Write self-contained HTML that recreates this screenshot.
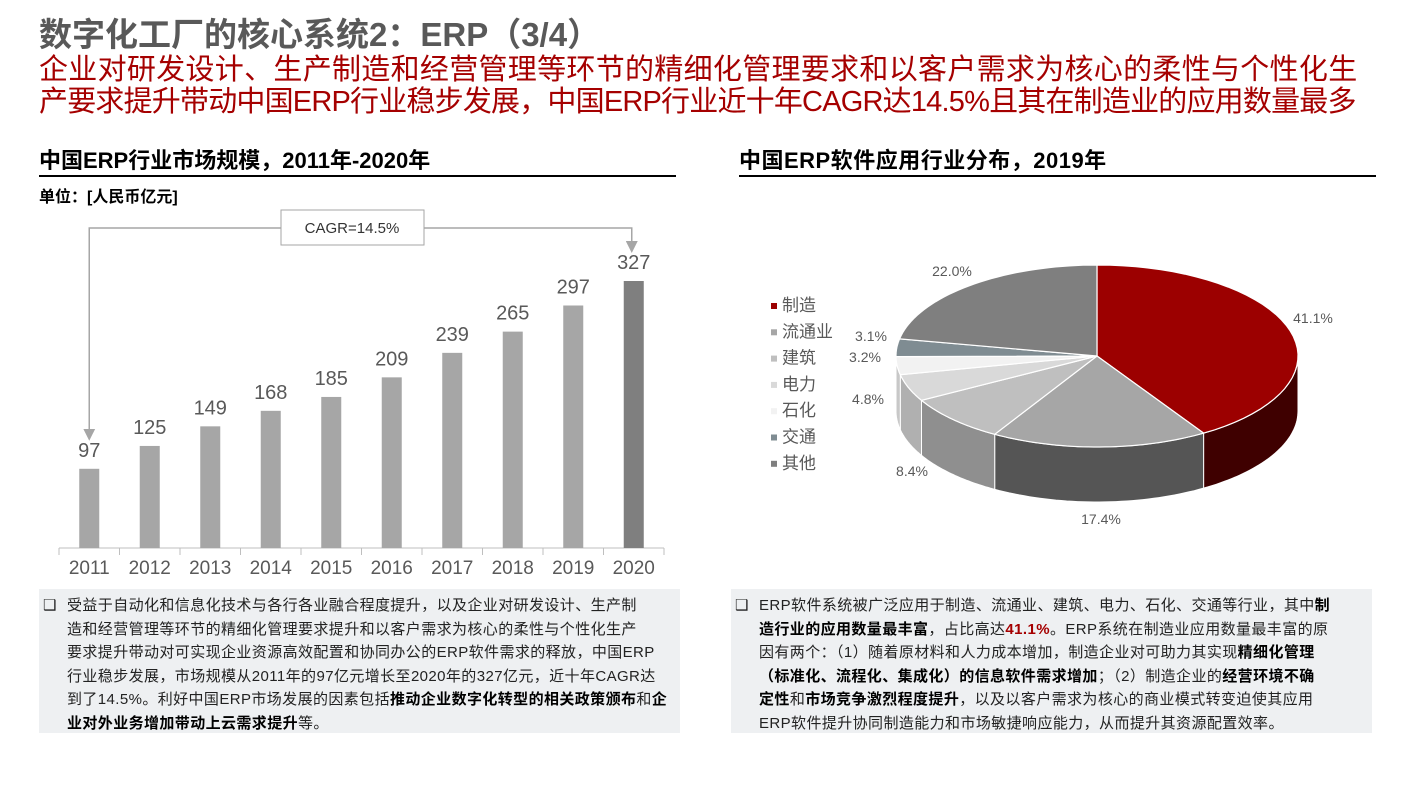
<!DOCTYPE html>
<html><head><meta charset="utf-8">
<style>
body{margin:0;width:1411px;height:794px;background:#fff;position:relative;overflow:hidden;font-family:"Liberation Sans","Noto Sans CJK SC",sans-serif;}
.abs{position:absolute;white-space:nowrap;}
#title{left:39px;top:8px;font-size:33px;font-weight:bold;color:#595959;}
.sub{left:39px;font-size:29px;color:#a50000;line-height:32px;}
.sec{font-size:22px;font-weight:bold;color:#000;top:143px;}
.rule{height:2px;background:#000;top:175px;}
.box{background:#eef0f2;top:589px;height:144px;font-size:15px;letter-spacing:0.4px;color:#222;line-height:23.5px;padding:5px 0 0 0;box-sizing:border-box;}
.box .bul{position:absolute;left:4px;top:5px;}
.box .txt{position:absolute;left:28px;top:5px;}
b{font-weight:bold;color:#000;}
</style></head><body>
<div id="title" class="abs">数字化工厂的核心系统2：ERP（3/4）</div>
<div class="abs sub" style="top:54px;letter-spacing:0.3px">企业对研发设计、生产制造和经营管理等环节的精细化管理要求和以客户需求为核心的柔性与个性化生</div>
<div class="abs sub" style="top:86px;letter-spacing:-0.8px">产要求提升带动中国ERP行业稳步发展，中国ERP行业近十年CAGR达14.5%且其在制造业的应用数量最多</div>

<div class="abs sec" style="left:39px">中国ERP行业市场规模，2011年-2020年</div>
<div class="abs rule" style="left:39px;width:637px"></div>
<div class="abs" style="left:39px;top:183px;font-size:16px;font-weight:bold">单位：[人民币亿元]</div>

<div class="abs sec" style="left:739px;letter-spacing:0.5px">中国ERP软件应用行业分布，2019年</div>
<div class="abs rule" style="left:739px;width:637px"></div>

<svg id="chart" class="abs" style="left:0;top:0" width="1411" height="794"></svg>

<div class="abs box" style="left:39px;width:641px">
<span class="bul">❑</span>
<div class="txt">受益于自动化和信息化技术与各行各业融合程度提升，以及企业对研发设计、生产制<br>造和经营管理等环节的精细化管理要求提升和以客户需求为核心的柔性与个性化生产<br>要求提升带动对可实现企业资源高效配置和协同办公的ERP软件需求的释放，中国ERP<br>行业稳步发展，市场规模从2011年的97亿元增长至2020年的327亿元，近十年CAGR达<br>到了14.5%。利好中国ERP市场发展的因素包括<b>推动企业数字化转型的相关政策颁布</b>和<b>企<br>业对外业务增加带动上云需求提升</b>等。</div>
</div>
<div class="abs box" style="left:731px;width:641px">
<span class="bul">❑</span>
<div class="txt">ERP软件系统被广泛应用于制造、流通业、建筑、电力、石化、交通等行业，其中<b>制<br>造行业的应用数量最丰富</b>，占比高达<b style="color:#a50000">41.1%</b>。ERP系统在制造业应用数量最丰富的原<br>因有两个：（1）随着原材料和人力成本增加，制造企业对可助力其实现<b>精细化管理<br>（标准化、流程化、集成化）的信息软件需求增加</b>；（2）制造企业的<b>经营环境不确<br>定性</b>和<b>市场竞争激烈程度提升</b>，以及以客户需求为核心的商业模式转变迫使其应用<br>ERP软件提升协同制造能力和市场敏捷响应能力，从而提升其资源配置效率。</div>
</div>

<script>
const years=['2011','2012','2013','2014','2015','2016','2017','2018','2019','2020'];
const values=[97,125,149,168,185,209,239,265,297,327];
const pieLabels=['制造','流通业','建筑','电力','石化','交通','其他'];
const pieValues=[41.1,17.4,8.4,4.8,3.2,3.1,22.0];
const pieText=['41.1%','17.4%','8.4%','4.8%','3.2%','3.1%','22.0%'];

const NS='http://www.w3.org/2000/svg';
const svg=document.getElementById('chart');
function mk(tag,attrs,parent){const e=document.createElementNS(NS,tag);for(const k in attrs)e.setAttribute(k,attrs[k]);(parent||svg).appendChild(e);return e;}

const x0=59,x1=664,base=548,scale=(548-281)/327;
const step=(x1-x0)/years.length;
const xC=i=>x0+step*(i+0.5);
const yV=v=>base-v*scale;
const axis=mk('line',{x1:x0,y1:base,x2:x1,y2:base,stroke:'#bfbfbf','stroke-width':1});


for(let i=0;i<=years.length;i++){
  const t=mk('line',{x1:x0+step*i,y1:base,x2:x0+step*i,y2:base+7,stroke:'#bfbfbf'});
  
  
}
years.forEach((y,i)=>{
  const last=i===years.length-1;
  const r=mk('rect',{x:xC(i)-10,y:yV(values[i]),width:20,height:values[i]*scale,fill:last?'#7f7f7f':'#a6a6a6'});
  
  
  const vl=mk('text',{x:xC(i),y:yV(values[i])-12,'text-anchor':'middle','font-size':20,fill:'#595959'});
  vl.textContent=values[i];
  
  
  const tl=mk('text',{x:xC(i),y:574,'text-anchor':'middle','font-size':19,fill:'#595959'});
  tl.textContent=y;
  
  
});
const defs=mk('defs',{});
const mrk=mk('marker',{id:'ah',markerWidth:8,markerHeight:8,refX:4,refY:4,orient:'auto'},defs);
mk('path',{d:'M0,0 L8,4 L0,8 z',fill:'#a6a6a6'},mrk);
const yA=228;
const la=mk('path',{d:`M281,${yA} H${xC(0)} V${yV(values[0])-34}`,fill:'none',stroke:'#a6a6a6','stroke-width':1.5,'marker-end':'url(#ah)'});


const ra=mk('path',{d:`M424,${yA} H${xC(9)-2} V${yV(values[9])-34}`,fill:'none',stroke:'#a6a6a6','stroke-width':1.5,'marker-end':'url(#ah)'});


const cb=mk('rect',{x:281,y:210,width:143,height:35,fill:'#fff',stroke:'#a6a6a6','stroke-width':1});


const ct=mk('text',{x:352,y:233,'text-anchor':'middle','font-size':15,fill:'#333'});
ct.textContent='CAGR=14.5%';



const cx=1097,cy=356,rx=201,ry=91,depth=55;
const topC=['#9c0000','#a6a6a6','#bfbfbf','#d9d9d9','#f2f2f2','#7f8c92','#7f7f7f'];
const sideC=['#3f0000','#555555','#8f8f8f','#b0b0b0','#c8c8c8','#5f6a70','#6a6a6a'];
const P=a=>[cx+rx*Math.sin(a),cy-ry*Math.cos(a)];
const total=pieValues.reduce((s,v)=>s+v,0);
let acc=0;const ang=[];
pieValues.forEach(v=>{const a0=acc/total*2*Math.PI;acc+=v;ang.push([a0,acc/total*2*Math.PI]);});
function arcPts(a,b,dy){const pts=[];const n=40;for(let k=0;k<=n;k++){const t=a+(b-a)*k/n;const p=P(t);pts.push([p[0],p[1]+dy]);}return pts;}
ang.forEach(([a,b],i)=>{
  const s=Math.max(a,Math.PI/2),e=Math.min(b,3*Math.PI/2);
  if(e<=s)return;
  const top=arcPts(s,e,0),bot=arcPts(s,e,depth).reverse();
  const d='M'+top.concat(bot).map(p=>p[0].toFixed(1)+','+p[1].toFixed(1)).join(' L')+'Z';
  const sp=mk('path',{d,fill:sideC[i],stroke:'#fff','stroke-width':1});
  
  
});
ang.forEach(([a,b],i)=>{
  const pts=arcPts(a,b,0);
  const d=`M${cx},${cy} L`+pts.map(p=>p[0].toFixed(1)+','+p[1].toFixed(1)).join(' L')+'Z';
  const sl=mk('path',{d,fill:topC[i],stroke:'#fff','stroke-width':1.2});
  
  
});
const labPos=[[1313,323],[1101,524],[912,476],[868,404],[865,362],[871,341],[952,276]];
pieText.forEach((t,i)=>{
  const tx=mk('text',{x:labPos[i][0],y:labPos[i][1],'text-anchor':'middle','font-size':14,fill:'#595959'});
  tx.textContent=t;
  
  
});
pieLabels.forEach((l,i)=>{
  const y=305+i*26.3;
  const sq=mk('rect',{x:771,y:y-2,width:6,height:6,fill:topC[i]});
  
  
  const t=mk('text',{x:782,y:y+6,'font-size':17,fill:'#595959'});
  t.textContent=l;
  
  
});
</script>
</body></html>
